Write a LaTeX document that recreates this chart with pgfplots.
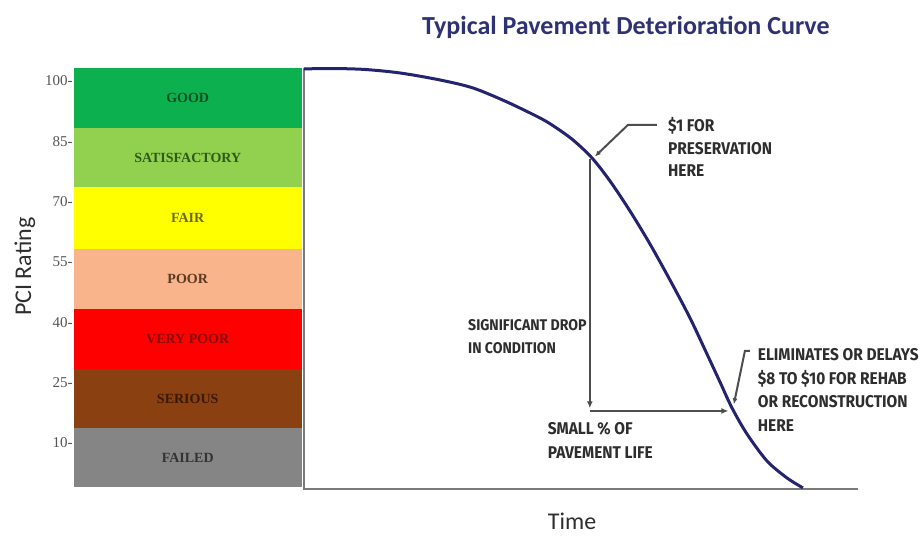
\documentclass[border=0pt]{standalone}
\usepackage{fontspec}
\setmainfont{Carlito}
\newfontfamily\callfont{Fira Sans}[FakeStretch=0.91]
\newfontfamily\bandfont{Liberation Serif}
\usepackage{pgfplots}
\pgfplotsset{compat=1.18}
\usetikzlibrary{arrows.meta}
\definecolor{cgood}{HTML}{0DB04F}
\definecolor{csat}{HTML}{92D050}
\definecolor{cfair}{HTML}{FFFF00}
\definecolor{cpoor}{HTML}{F9B48C}
\definecolor{cvpoor}{HTML}{FF0000}
\definecolor{cser}{HTML}{8A4010}
\definecolor{cfail}{HTML}{858585}
\definecolor{tgood}{HTML}{0A4F24}
\definecolor{tsat}{HTML}{2E5A1A}
\definecolor{tfair}{HTML}{6A6A10}
\definecolor{tpoor}{HTML}{5A3A22}
\definecolor{tvpoor}{HTML}{8A0A0A}
\definecolor{tser}{HTML}{3A1A05}
\definecolor{tfail}{HTML}{333333}
\definecolor{navy}{HTML}{24246E}
\definecolor{titleblue}{HTML}{2E3172}
\definecolor{axgray}{HTML}{7A7A7A}
\definecolor{argray}{HTML}{4D4D4D}
\definecolor{txtgray}{HTML}{2E2E2E}
\definecolor{tickgray}{HTML}{555555}
\begin{document}
\begin{tikzpicture}
\begin{axis}[
  scale only axis, width=923bp, height=536bp,
  xmin=-54.87, xmax=111.73, ymin=-13.13, ymax=120.14,
  axis line style={draw=none},
  axis background/.style={fill=white},
  xtick=\empty,
  ytick={10,25,40,55,70,85,100},
  yticklabels={10-,25-,40-,55-,70-,85-,100-},
  major tick length=0pt,
  yticklabel style={font=\bandfont\fontsize{15bp}{17bp}\selectfont, text=tickgray, xshift=76bp},
  clip=false,
]
% condition bands
\addplot[draw=none, fill=cgood]  coordinates {(-41.6,88.2) (-0.3,88.2) (-0.3,103.2) (-41.6,103.2)} --cycle;
\addplot[draw=none, fill=csat]   coordinates {(-41.6,73.7) (-0.3,73.7) (-0.3,88.2) (-41.6,88.2)} --cycle;
\addplot[draw=none, fill=cfair]  coordinates {(-41.6,58.1) (-0.3,58.1) (-0.3,73.7) (-41.6,73.7)} --cycle;
\addplot[draw=none, fill=cpoor]  coordinates {(-41.6,43.2) (-0.3,43.2) (-0.3,58.1) (-41.6,58.1)} --cycle;
\addplot[draw=none, fill=cvpoor] coordinates {(-41.6,28.3) (-0.3,28.3) (-0.3,43.2) (-41.6,43.2)} --cycle;
\addplot[draw=none, fill=cser]   coordinates {(-41.6,13.6) (-0.3,13.6) (-0.3,28.3) (-41.6,28.3)} --cycle;
\addplot[draw=none, fill=cfail]  coordinates {(-41.6,-0.9) (-0.3,-0.9) (-0.3,13.6) (-41.6,13.6)} --cycle;
% axes lines
\addplot[axgray, line width=2bp] coordinates {(0,103.2) (0,-1.45) (100,-1.45)};
% deterioration curve
\addplot[navy, line width=3bp, smooth, tension=0.5] coordinates {
 (0,103.0) (5.23,103.1) (11.0,102.86) (17.33,101.99) (24.55,100.25) (30.5,98.26)
 (36.64,94.78) (42.6,90.8) (45.31,88.56) (48.56,85.33) (51.99,80.86) (55.23,75.14)
 (58.84,67.68) (62.45,59.47) (66.06,50.52) (69.68,41.07) (72.74,32.12) (75.09,25.16)
 (77.26,18.70) (79.96,12.23) (83.57,5.52) (87.18,1.29) (90.07,-1.19)};
% arrows
\addplot[argray, line width=2bp, -{Latex[length=7bp,width=6bp]}] coordinates {(51.6,80.5) (51.6,18.6)};
\addplot[argray, line width=2bp, -{Latex[length=7bp,width=6bp]}] coordinates {(51.6,17.95) (76.6,17.95)};
\addplot[argray, line width=2bp, -{Latex[length=6bp,width=5bp]}] coordinates {(63.7,89.1) (58.5,89.1) (52.5,81.2)};
\addplot[argray, line width=2bp, -{Latex[length=6bp,width=5bp]}] coordinates {(80.5,32.9) (79.6,32.9) (77.6,19.6)};
% band labels
\node[font=\bandfont\bfseries\fontsize{14bp}{16bp}\selectfont, text=tgood]  at (axis cs:-21.0,95.7) {GOOD};
\node[font=\bandfont\bfseries\fontsize{14bp}{16bp}\selectfont, text=tsat]   at (axis cs:-21.0,80.95) {SATISFACTORY};
\node[font=\bandfont\bfseries\fontsize{14bp}{16bp}\selectfont, text=tfair]  at (axis cs:-21.0,65.9) {FAIR};
\node[font=\bandfont\bfseries\fontsize{14bp}{16bp}\selectfont, text=tpoor]  at (axis cs:-21.0,50.65) {POOR};
\node[font=\bandfont\bfseries\fontsize{14bp}{16bp}\selectfont, text=tvpoor] at (axis cs:-21.0,35.75) {VERY POOR};
\node[font=\bandfont\bfseries\fontsize{14bp}{16bp}\selectfont, text=tser]   at (axis cs:-21.0,20.95) {SERIOUS};
\node[font=\bandfont\bfseries\fontsize{14bp}{16bp}\selectfont, text=tfail]  at (axis cs:-21.0,6.35) {FAILED};
% annotations
\node[anchor=west, align=left, inner sep=0pt, text=txtgray, font=\callfont\bfseries\fontsize{17bp}{22.5bp}\selectfont] at (axis cs:65.7,83.5) {\$1 FOR\\PRESERVATION\\HERE};
\node[anchor=west, align=left, inner sep=0pt, text=txtgray, font=\callfont\bfseries\fontsize{15.5bp}{23bp}\selectfont] at (axis cs:29.6,36.5) {SIGNIFICANT DROP\\IN CONDITION};
\node[anchor=west, align=left, inner sep=0pt, text=txtgray, font=\callfont\bfseries\fontsize{17bp}{24bp}\selectfont] at (axis cs:44.0,10.7) {SMALL \% OF\\PAVEMENT LIFE};
\node[anchor=west, align=left, inner sep=0pt, text=txtgray, font=\callfont\bfseries\fontsize{17bp}{23.5bp}\selectfont] at (axis cs:81.9,23.2) {ELIMINATES OR DELAYS\\\$8 TO \$10 FOR REHAB\\OR RECONSTRUCTION\\HERE};
% titles
\node[font=\bfseries\fontsize{26bp}{30bp}\selectfont, text=titleblue] at (axis cs:58.1,113.4) {Typical Pavement Deterioration Curve};
\node[rotate=90, font=\fontsize{24bp}{28bp}\selectfont, text=txtgray] at (axis cs:-50.4,53.8) {PCI Rating};
\node[font=\fontsize{24bp}{28bp}\selectfont, text=txtgray] at (axis cs:48.4,-9.6) {Time};
\end{axis}
\end{tikzpicture}
\end{document}
